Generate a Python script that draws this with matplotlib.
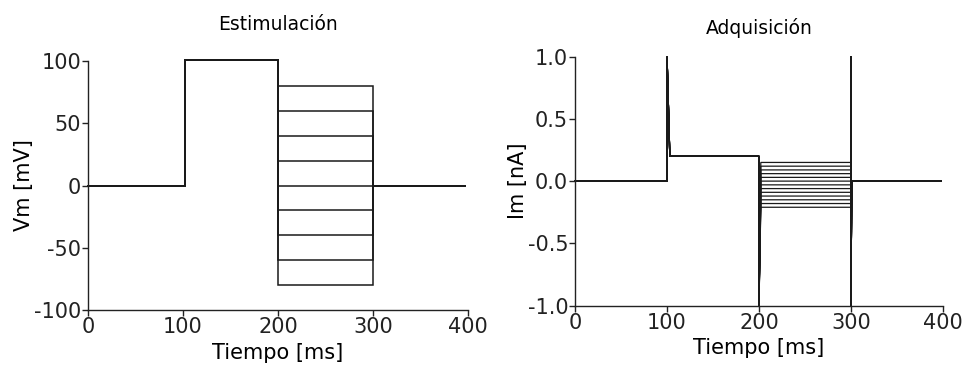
import matplotlib
matplotlib.use("Agg")
import matplotlib.pyplot as plt

# ---------------------------------------------------------------------------
# Data
# ---------------------------------------------------------------------------
# stimulus protocol (mV): holding, prepulse, test steps, back to holding
stim_times = [0, 102, 102, 200, 200, 300, 300, 397]
stim_hold = 0
stim_prepulse = 101
stim_levels = [80, 60, 40, 20, 0, -20, -40, -60, -80]

# acquired current (nA): one sweep per test level
cur_times = [0, 100, 100, 103, 200, 200, 202, 300, 300, 300, 301, 398]
cur_prepulse = 0.2
cur_peak = 1.0
cur_dip = -1.0
cur_levels = [0.15, 0.12, 0.09, 0.06, 0.03, 0.0, -0.03, -0.06,
              -0.09, -0.12, -0.15, -0.18, -0.21]

x_ticks = [0, 100, 200, 300, 400]
vm_ticks = [-100, -50, 0, 50, 100]
im_ticks = [-1.0, -0.5, 0.0, 0.5, 1.0]

plt.rcParams["font.family"] = ["DejaVu Sans"]
plt.rcParams["axes.unicode_minus"] = False
LINE = "#1a1a1a"
FS = 15


def style_axes(ax):
    for side in ("top", "right"):
        ax.spines[side].set_visible(False)
    for side in ("left", "bottom"):
        ax.spines[side].set_linewidth(1.0)
        ax.spines[side].set_color("#222222")
    ax.tick_params(direction="out", length=4, width=1.0, labelsize=FS,
                   colors="#222222", pad=1)


fig = plt.figure(figsize=(9.65, 3.7), dpi=100)

# ---------------------------------------------------------------------------
# Left: stimulation
# ---------------------------------------------------------------------------
ax1 = fig.add_axes([0.0912, 0.162, 0.394, 0.673])
for lvl in stim_levels:
    v = [stim_hold, stim_hold, stim_prepulse, stim_prepulse, lvl, lvl,
         stim_hold, stim_hold]
    ax1.plot(stim_times, v, color=LINE, lw=1.1, solid_joinstyle="miter",
             clip_on=False)
ax1.set_xlim(0, 400)
ax1.set_ylim(-100, 100)
ax1.set_xticks(x_ticks)
ax1.set_yticks(vm_ticks)
ax1.set_xlabel("Tiempo [ms]", fontsize=FS, labelpad=4)
ax1.set_ylabel("Vm [mV]", fontsize=FS, labelpad=0)
ax1.set_title("Estimulación", fontsize=13.5, pad=22)
style_axes(ax1)

# ---------------------------------------------------------------------------
# Right: acquisition
# ---------------------------------------------------------------------------
ax2 = fig.add_axes([0.596, 0.174, 0.381, 0.673])
for lvl in cur_levels:
    i = [0, 0, cur_peak, cur_prepulse, cur_prepulse, cur_dip, lvl, lvl,
         cur_peak, cur_dip, 0, 0]
    ax2.plot(cur_times, i, color=LINE, lw=0.9, solid_joinstyle="miter",
             clip_on=False)
ax2.set_xlim(0, 400)
ax2.set_ylim(-1.0, 1.0)
ax2.set_xticks(x_ticks)
ax2.set_yticks(im_ticks)
ax2.set_yticklabels([f"{t:.1f}" for t in im_ticks])
ax2.set_xlabel("Tiempo [ms]", fontsize=FS, labelpad=4)
ax2.set_ylabel("Im [nA]", fontsize=FS, labelpad=0)
ax2.set_title("Adquisición", fontsize=13.5, pad=16)
style_axes(ax2)

fig.savefig("out.png", dpi=100)
plt.close(fig)
